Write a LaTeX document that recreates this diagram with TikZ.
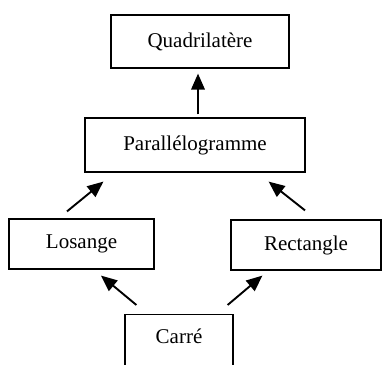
\documentclass[tikz,border=0pt]{standalone}
\usepackage{fontspec}
\setmainfont{Liberation Serif}
\usetikzlibrary{calc,arrows.meta,positioning}

\tikzset{
	box/.style={draw, line width=1.2pt, inner sep=0pt, font=\fontsize{21}{25}\selectfont},
	arr/.style={line width=1.9pt, -{Triangle[length=16pt,width=13.5pt]}}
}

\begin{document}
\begin{tikzpicture}[x=1pt,y=1pt]

	\useasboundingbox (0,0) rectangle (382,364);
	\clip (0,0) rectangle (382,364);

	%% the boxes
	\node[box, minimum width=178pt, minimum height=53pt] (quad) at (200,322.5) {Quadrilatère};
	\node[box, minimum width=220pt, minimum height=54pt] (para) at (195,219) {Parallélogramme};
	\node[box, minimum width=145pt, minimum height=50pt] (los) at (81.5,120) {Losange};
	\node[box, minimum width=150pt, minimum height=50pt] (rect) at (306,119) {Rectangle};
	% bottom of this one runs off the page
	\node[box, anchor=north, minimum width=108pt, text height=29pt, text depth=25pt] (carre) at (179,50) {Carré};

	%% the arrows
	\draw[arr] ($(para.north)+(3,3)$) -- ($(quad.south)+(-2,-5)$);
	\draw[arr] ($(los.north)+(-14.5,7)$) -- ($(para.south west)+(19,-9)$);
	\draw[arr] ($(rect.north)+(-1,9)$) -- ($(para.south east)+(-37,-9)$);
	\draw[arr] ($(carre.north west)+(12,9)$) -- ($(los.south)+(19.5,-6)$);
	\draw[arr] ($(carre.north east)+(-6,9)$) -- ($(rect.south west)+(32,-5)$);

\end{tikzpicture}
\end{document}
